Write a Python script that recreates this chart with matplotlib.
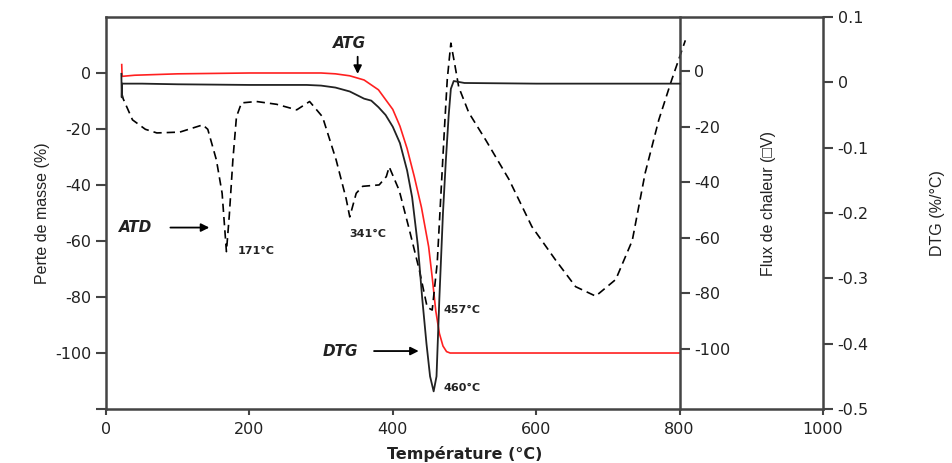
import numpy as np
import matplotlib
matplotlib.use('Agg')
import matplotlib.pyplot as plt

# ATG (perte de masse, %)
t_atg = [22, 22.5, 40, 100, 200, 300, 320, 340, 360, 380, 400, 410, 420, 430,
         440, 450, 455, 460, 465, 470, 475, 480, 500, 600, 700, 800]
atg = [3, -1.2, -0.8, -0.3, 0, 0, -0.3, -1, -2.5, -6, -13, -19, -27, -37,
       -48, -62, -73, -85, -93, -97.5, -99.5, -100, -100, -100, -100, -100]

# DTG (%/°C)
t_dtg = [21.5, 22, 22.5, 50, 100, 200, 280, 300, 320, 340, 360, 370, 380, 390,
         400, 410, 420, 427, 435, 441, 447, 452, 457, 461, 465, 470, 474, 478,
         481, 485, 490, 500, 600, 700, 800]
dtg = [0.013, -0.023, -0.002, -0.002, -0.003, -0.004, -0.004, -0.005, -0.008,
       -0.014, -0.025, -0.028, -0.038, -0.05, -0.068, -0.093, -0.135, -0.176,
       -0.25, -0.33, -0.40, -0.45, -0.473, -0.45, -0.33, -0.2, -0.12, -0.05,
       -0.01, 0.002, 0.001, -0.001, -0.002, -0.002, -0.002]

# ATD (flux de chaleur)
t_atd = [22, 24, 37, 55, 71, 103, 135, 142, 154, 162, 168, 172, 177, 182, 189,
         210, 238, 266, 284, 302, 321, 335, 340, 349, 358, 381, 391, 395,
         409, 423, 437, 448, 455, 462, 467, 472, 476, 481, 486, 492, 506,
         530, 562, 594, 627, 655, 683, 711, 734, 752, 771, 789, 808]
atd = [-8, -10, -17.6, -21, -22.3, -22, -19.4, -21, -32, -44, -65, -52, -32,
       -16.5, -11.5, -11, -12, -14, -11, -16.5, -32, -46, -52.5, -44, -41.5,
       -41, -38, -34.5, -43, -57, -71.6, -85, -86, -69, -45, -21, -3, 10, 3,
       -5.8, -15, -25, -39, -56, -68, -77.6, -81, -75, -61, -36.7, -17.6, -3.2, 11]

left_ticks = [-120, -100, -80, -60, -40, -20, 0]
left_labels = ['', '-100', '-80', '-60', '-40', '-20', '0']
flux_ticks = [-100, -80, -60, -40, -20, 0]
dtg_ticks = [-0.5, -0.4, -0.3, -0.2, -0.1, 0, 0.1]
x_ticks = [0, 200, 400, 600, 800, 1000]

plt.rcParams['font.family'] = ['DejaVu Sans']
txt = '#222222'
spc = '#444444'

fig = plt.figure(figsize=(9.52, 4.63), dpi=100)
ax = fig.add_axes([0.1113, 0.1166, 0.7532, 0.8467])
ax2 = ax.twinx()   # flux de chaleur, axe a x=800
ax3 = ax.twinx()   # DTG, axe de droite

ax.plot(t_atg, atg, color='#ff2020', lw=1.2, zorder=3)
ax2.plot(t_atd, atd, color='black', lw=1.2, ls=(0, (5, 3)))
ax3.plot(t_dtg, dtg, color='#222222', lw=1.3)

ax.set_xlim(0, 1000)
ax.set_ylim(-120, 20)
ax2.set_ylim(-121.6, 19.4)
ax3.set_ylim(-0.5, 0.1)

ax.set_xticks(x_ticks)
ax.set_xticklabels([str(v) for v in x_ticks])
ax.set_yticks(left_ticks)
ax.set_yticklabels(left_labels)
ax2.set_yticks(flux_ticks)
ax2.set_yticklabels([str(v) for v in flux_ticks])
ax3.set_yticks(dtg_ticks)
ax3.set_yticklabels(['-0.5', '-0.4', '-0.3', '-0.2', '-0.1', '0', '0.1'])

for a in (ax, ax2, ax3):
    for s in a.spines.values():
        s.set_color(spc)
        s.set_linewidth(1.8)
    a.tick_params(colors=spc, labelcolor=txt, labelsize=11.5, width=1.5, length=7)

ax.tick_params(axis='x', length=4, pad=5)
ax.spines['right'].set_visible(False)
for s in ('left', 'top', 'bottom'):
    ax2.spines[s].set_visible(False)
    ax3.spines[s].set_visible(False)
ax2.spines['right'].set_position(('data', 800))

ax.set_xlabel('Température (°C)', fontsize=11.5, fontweight='bold', color=txt, labelpad=7)
ax.set_ylabel('Perte de masse (%)', fontsize=11.5, family=['Liberation Sans', 'DejaVu Sans'],
              color=txt, labelpad=4)
fig.text(0.807, 0.56, 'Flux de chaleur (□V)', rotation=90, ha='center', va='center',
         fontsize=11.5, family=['Liberation Sans', 'DejaVu Sans'], color=txt)
fig.text(0.985, 0.54, 'DTG (%/°C)', rotation=90, ha='center', va='center',
         fontsize=11.5, family=['Liberation Sans', 'DejaVu Sans'], color=txt)

# annotations
bi = dict(fontsize=11, fontweight='bold', style='italic', color=txt)
arr = dict(arrowstyle='-|>', color='black', lw=1.3, mutation_scale=12)
ax.text(340, 10.5, 'ATG', ha='center', va='center', **bi)
ax.annotate('', xy=(351, -1.3), xytext=(351, 6.8), arrowprops=arr)
ax.text(42, -55.2, 'ATD', ha='center', va='center', **bi)
ax.annotate('', xy=(148, -55.2), xytext=(86, -55.2), arrowprops=arr)
ax.text(327, -99.3, 'DTG', ha='center', va='center', **bi)
ax.annotate('', xy=(440, -99.3), xytext=(370, -99.3), arrowprops=arr)

lab = dict(fontsize=8, fontweight='bold', color=txt, va='center')
ax.text(184, -63.5, '171°C', ha='left', **lab)
ax.text(365, -57.5, '341°C', ha='center', **lab)
ax.text(471, -84.6, '457°C', ha='left', **lab)
ax.text(471, -112.5, '460°C', ha='left', **lab)

fig.savefig('out.png', dpi=100)
